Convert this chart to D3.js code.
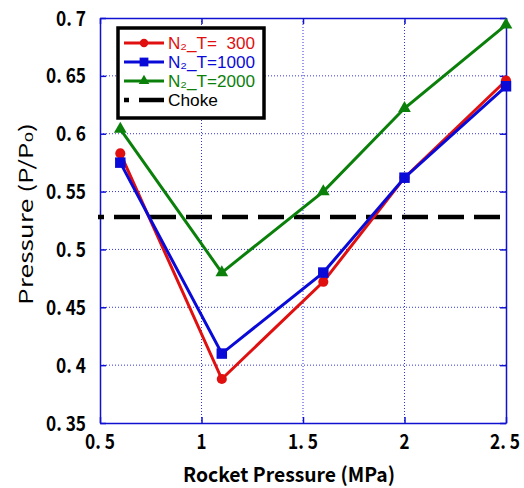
<!DOCTYPE html>
<html>
<head>
<meta charset="utf-8">
<script src="https://cdn.jsdelivr.net/npm/d3@7"></script>
<style>
  body { margin: 0; background: #fff; }
  text { font-family: "Noto Sans CJK JP", "DejaVu Sans", sans-serif; }
  .legend text { font-family: "Liberation Sans", "DejaVu Sans", sans-serif; }
</style>
</head>
<body>
<svg id="chart" width="524" height="488"></svg>
<script>
// rocket pressure (MPa)
const rocketP = [0.6, 1.1, 1.6, 2.0, 2.5];
// pressure ratio P/P0 per nitrogen temperature
const t300 = [0.583, 0.388, 0.472, 0.562, 0.646];
const t1000 = [0.575, 0.410, 0.480, 0.562, 0.641];
const t2000 = [0.604, 0.480, 0.550, 0.622, 0.694];
const choke = 0.528;

const xTicks = [0.5, 1, 1.5, 2, 2.5];
const yTicks = [0.35, 0.4, 0.45, 0.5, 0.55, 0.6, 0.65, 0.7];
const seriesNames = ["N\u2082_T=  300", "N\u2082_T=1000", "N\u2082_T=2000"];

const svg = d3.select("#chart");
const pLeft = 100, pRight = 506, pTop = 18, pBottom = 423;

const x = d3.scaleLinear().domain([0.5, 2.5]).range([pLeft, pRight]);
const y = d3.scaleLinear().domain([0.35, 0.7]).range([pBottom, pTop]);

const fmt = function(v) { return String(v).replace(".", ". "); };
// condensed look of the original gothic font: ~10px per glyph
const labelLen = function(v) { return 10 * (fmt(v).replace(" ", "").length); };

// grid
const grid = svg.append("g");
grid.selectAll("line.gx").data(xTicks.slice(1, -1)).enter().append("line")
  .attr("x1", d => x(d)).attr("x2", d => x(d))
  .attr("y1", pTop).attr("y2", pBottom)
  .attr("stroke", "#3333dd").attr("stroke-width", 1).attr("stroke-dasharray", "1,2");
grid.selectAll("line.gy").data(yTicks.slice(1, -1)).enter().append("line")
  .attr("x1", pLeft).attr("x2", pRight)
  .attr("y1", d => y(d)).attr("y2", d => y(d))
  .attr("stroke", "#3333dd").attr("stroke-width", 1).attr("stroke-dasharray", "1,2");

// axes, ticks inward
const axisColor = "#1010d0";
function styleAxis(g) {
  g.selectAll("line,path").attr("stroke", axisColor).attr("stroke-width", 1.5);
}
svg.append("g").attr("transform", `translate(0,${pBottom})`)
  .call(d3.axisTop(x).tickValues(xTicks).tickSize(6).tickSizeOuter(0).tickFormat(""))
  .call(styleAxis);
svg.append("g").attr("transform", `translate(0,${pTop})`)
  .call(d3.axisBottom(x).tickValues(xTicks).tickSize(6).tickSizeOuter(0).tickFormat(""))
  .call(styleAxis);
svg.append("g").attr("transform", `translate(${pLeft},0)`)
  .call(d3.axisRight(y).tickValues(yTicks).tickSize(6).tickSizeOuter(0).tickFormat(""))
  .call(styleAxis);
svg.append("g").attr("transform", `translate(${pRight},0)`)
  .call(d3.axisLeft(y).tickValues(yTicks).tickSize(6).tickSizeOuter(0).tickFormat(""))
  .call(styleAxis);

// tick labels
svg.selectAll("text.xt").data(xTicks).enter().append("text")
  .attr("x", d => Math.min(x(d) - labelLen(d) / 2, 490)).attr("y", 449)
  .attr("font-size", 20).attr("font-weight", "bold")
  .attr("textLength", labelLen).attr("lengthAdjust", "spacingAndGlyphs")
  .text(fmt);
svg.selectAll("text.yt").data(yTicks).enter().append("text")
  .attr("x", d => 86 - labelLen(d)).attr("y", d => y(d) + 7.5)
  .attr("font-size", 20).attr("font-weight", "bold")
  .attr("textLength", labelLen).attr("lengthAdjust", "spacingAndGlyphs")
  .text(fmt);

// axis titles
svg.append("text").attr("x", 183).attr("y", 482)
  .attr("font-size", 20).attr("font-weight", "bold")
  .attr("textLength", 212).attr("lengthAdjust", "spacingAndGlyphs")
  .text("Rocket Pressure (MPa)");
svg.append("text").attr("transform", "translate(33,305) rotate(-90)")
  .attr("font-size", 19)
  .attr("textLength", 182).attr("lengthAdjust", "spacingAndGlyphs")
  .text("Pressure (P/P\u2080)");

// choke line
svg.append("line")
  .attr("x1", 98).attr("x2", x(2.5))
  .attr("y1", y(choke)).attr("y2", y(choke))
  .attr("stroke", "#000").attr("stroke-width", 4.5)
  .attr("stroke-dasharray", "26,10").attr("stroke-dashoffset", 20);

// series
const series = [
  { vals: t300, color: "#e01010", shape: d3.symbolCircle, size: 80 },
  { vals: t1000, color: "#0a0ad8", shape: d3.symbolSquare, size: 110 },
  { vals: t2000, color: "#0a800a", shape: d3.symbolTriangle, size: 70 }
];
const line = d3.line().x(d => x(d[0])).y(d => y(d[1]));

series.forEach(function(s) {
  const pts = rocketP.map((p, i) => [p, s.vals[i]]);
  svg.append("path").datum(pts)
    .attr("d", line).attr("fill", "none")
    .attr("stroke", s.color).attr("stroke-width", 3);
  svg.selectAll(null).data(pts).enter().append("path")
    .attr("transform", d => `translate(${x(d[0])},${y(d[1])})`)
    .attr("d", d3.symbol().type(s.shape).size(s.size))
    .attr("fill", s.color);
});

// legend
const lg = svg.append("g").attr("class", "legend");
lg.append("rect").attr("x", 118).attr("y", 28).attr("width", 146).attr("height", 90)
  .attr("fill", "#fff").attr("stroke", "#000").attr("stroke-width", 3.5);
const rowY = [43, 62, 81, 100];
series.forEach(function(s, i) {
  lg.append("line").attr("x1", 124).attr("x2", 164).attr("y1", rowY[i]).attr("y2", rowY[i])
    .attr("stroke", s.color).attr("stroke-width", 3);
  lg.append("path").attr("transform", `translate(144,${rowY[i]})`)
    .attr("d", d3.symbol().type(s.shape).size(s.size * 0.7)).attr("fill", s.color);
  lg.append("text").attr("x", 168).attr("y", rowY[i] + 6)
    .attr("font-size", 16.8).attr("fill", s.color)
    .attr("textLength", 87).attr("lengthAdjust", "spacingAndGlyphs")
    .attr("xml:space", "preserve")
    .text(seriesNames[i]);
});
lg.append("line").attr("x1", 124).attr("x2", 164).attr("y1", rowY[3]).attr("y2", rowY[3])
  .attr("stroke", "#000").attr("stroke-width", 4.5).attr("stroke-dasharray", "5,10,26,0");
lg.append("text").attr("x", 168).attr("y", rowY[3] + 6)
  .attr("font-size", 16.8).attr("fill", "#000")
  .attr("textLength", 50).attr("lengthAdjust", "spacingAndGlyphs")
  .text("Choke");
</script>
</body>
</html>
